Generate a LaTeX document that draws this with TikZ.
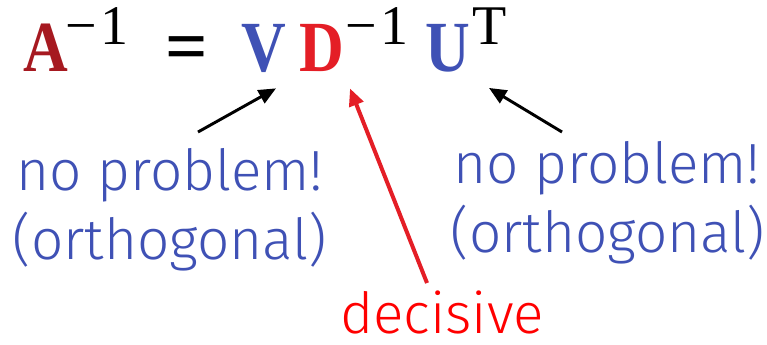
\documentclass[tikz,border=0pt]{standalone}
\usepackage{fontspec}
\setmainfont{Liberation Serif}
\newfontfamily\notefont{Fira Sans Light}
\usetikzlibrary{arrows.meta,calc}

\definecolor{noteblue}{RGB}{63,81,181}
\definecolor{darkred}{RGB}{166,25,32}
\definecolor{keyred}{RGB}{228,30,38}
\newcommand{\narrow}[1]{\scalebox{0.86}[1]{#1}}

\begin{document}
\begin{tikzpicture}[x=0.75pt,y=-0.75pt,
    letter/.style={font=\fontsize{54}{54}\selectfont\bfseries, inner sep=0pt, anchor=base},
    power/.style={font=\fontsize{42}{42}\selectfont, inner sep=0pt, anchor=base},
    note/.style={font=\notefont\fontsize{42.5}{52}\selectfont, text=noteblue, inner sep=0pt, anchor=base},
    pointer/.style={line width=2.2pt, -{Triangle[length=13pt,width=11pt]}}]

\useasboundingbox (0,0) rectangle (767,344);

% the formula
\node[letter, text=darkred] (A) at (46,71) {\narrow{A}};
\node[power] (Apow) at (97,44) {−\kern3pt1};
\node[letter, font=\fontsize{56}{56}\selectfont\bfseries] (eq) at (187,71) {=};
\node[letter, text=noteblue] (V) at (264,71) {\narrow{V}};
\node[letter, text=keyred] (D) at (322,71) {\narrow{D}};
\node[power] (Dpow) at (377,44) {−\kern3pt1};
\node[letter, text=noteblue] (U) at (448,71) {\narrow{U}};
\node[power] (Upow) at (490,44) {T};

% the notes
\node[note] (left1) at (170,190) {no problem!};
\node[note] (left2) at (170,259) {(orthogonal)};
\node[note] (right1) at (607,183) {no problem!};
\node[note] (right2) at (608,252) {(orthogonal)};
\node[note, text=red] (decisive) at (442,333) {decisive};

% arrows
\coordinate (lefttail) at (198,132);
\coordinate (righttail) at (562,132);
\coordinate (redtail) at (427,283);
\draw[pointer] (lefttail) -- ($(V.south)+(12,16)$);
\draw[pointer] (righttail) -- ($(U.south)+(41,16)$);
\draw[pointer, draw=keyred, line width=3pt] (redtail) -- ($(D.south)+(28,17)$);
\end{tikzpicture}
\end{document}
